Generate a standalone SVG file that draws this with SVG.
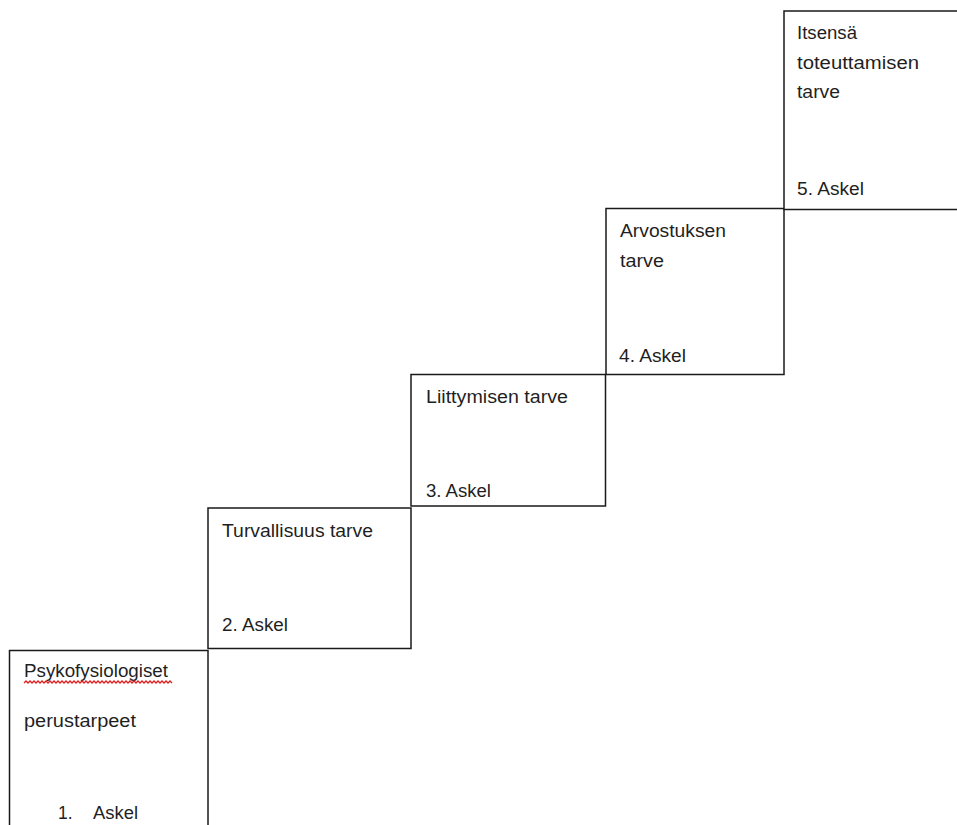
<svg xmlns="http://www.w3.org/2000/svg" width="957" height="825" viewBox="0 0 957 825">
<style>
.box{fill:#fff;stroke:#1a1a1a;stroke-width:1.5}
.t{font-family:"Liberation Sans",Arial,sans-serif;font-size:17.5px;fill:#1f1f1f}
.sq{fill:none;stroke:#e02020;stroke-width:1.3}
</style>
<rect width="957" height="825" fill="#fff"/>
<g id="step1">
<rect class="box" x="9.5" y="650.5" width="198.5" height="190"/>
<text class="t" x="24" y="677" textLength="144" lengthAdjust="spacingAndGlyphs">Psykofysiologiset</text>
<path class="sq" d="M24 683 l2 -2 l2 2 l2 -2 l2 2 l2 -2 l2 2 l2 -2 l2 2 l2 -2 l2 2 l2 -2 l2 2 l2 -2 l2 2 l2 -2 l2 2 l2 -2 l2 2 l2 -2 l2 2 l2 -2 l2 2 l2 -2 l2 2 l2 -2 l2 2 l2 -2 l2 2 l2 -2 l2 2 l2 -2 l2 2 l2 -2 l2 2 l2 -2 l2 2 l2 -2 l2 2 l2 -2 l2 2 l2 -2 l2 2 l2 -2 l2 2 l2 -2 l2 2 l2 -2 l2 2 l2 -2 l2 2 l2 -2 l2 2 l2 -2 l2 2 l2 -2 l2 2 l2 -2 l2 2 l2 -2 l2 2 l2 -2 l2 2 l2 -2 l2 2 l2 -2 l2 2 l2 -2 l2 2 l2 -2 l2 2 l2 -2 l2 2 l2 -2 l2 2"/>
<text class="t" x="24" y="727" textLength="112" lengthAdjust="spacingAndGlyphs">perustarpeet</text>
<text class="t" x="58" y="819">1.</text>
<text class="t" x="93" y="819" textLength="45" lengthAdjust="spacingAndGlyphs">Askel</text>
</g>
<g id="step2">
<rect class="box" x="208" y="508" width="203" height="140.5"/>
<text class="t" x="222" y="537" textLength="151" lengthAdjust="spacingAndGlyphs">Turvallisuus tarve</text>
<text class="t" x="222" y="631" textLength="66" lengthAdjust="spacingAndGlyphs">2. Askel</text>
</g>
<g id="step3">
<rect class="box" x="411" y="374.5" width="194.5" height="131.5"/>
<text class="t" x="426" y="403" textLength="142" lengthAdjust="spacingAndGlyphs">Liittymisen tarve</text>
<text class="t" x="426" y="497" textLength="65" lengthAdjust="spacingAndGlyphs">3. Askel</text>
</g>
<g id="step4">
<rect class="box" x="606" y="208.5" width="178" height="166"/>
<text class="t" x="620" y="237" textLength="106" lengthAdjust="spacingAndGlyphs">Arvostuksen</text>
<text class="t" x="620" y="267" textLength="44" lengthAdjust="spacingAndGlyphs">tarve</text>
<text class="t" x="619" y="362" textLength="67" lengthAdjust="spacingAndGlyphs">4. Askel</text>
</g>
<g id="step5">
<rect class="box" x="784" y="11" width="190" height="198.5"/>
<text class="t" x="797" y="39" textLength="60" lengthAdjust="spacingAndGlyphs">Itsensä</text>
<text class="t" x="797" y="69" textLength="122" lengthAdjust="spacingAndGlyphs">toteuttamisen</text>
<text class="t" x="797" y="98" textLength="43" lengthAdjust="spacingAndGlyphs">tarve</text>
<text class="t" x="797" y="195" textLength="67" lengthAdjust="spacingAndGlyphs">5. Askel</text>
</g>
<g id="connectors"></g>
</svg>
